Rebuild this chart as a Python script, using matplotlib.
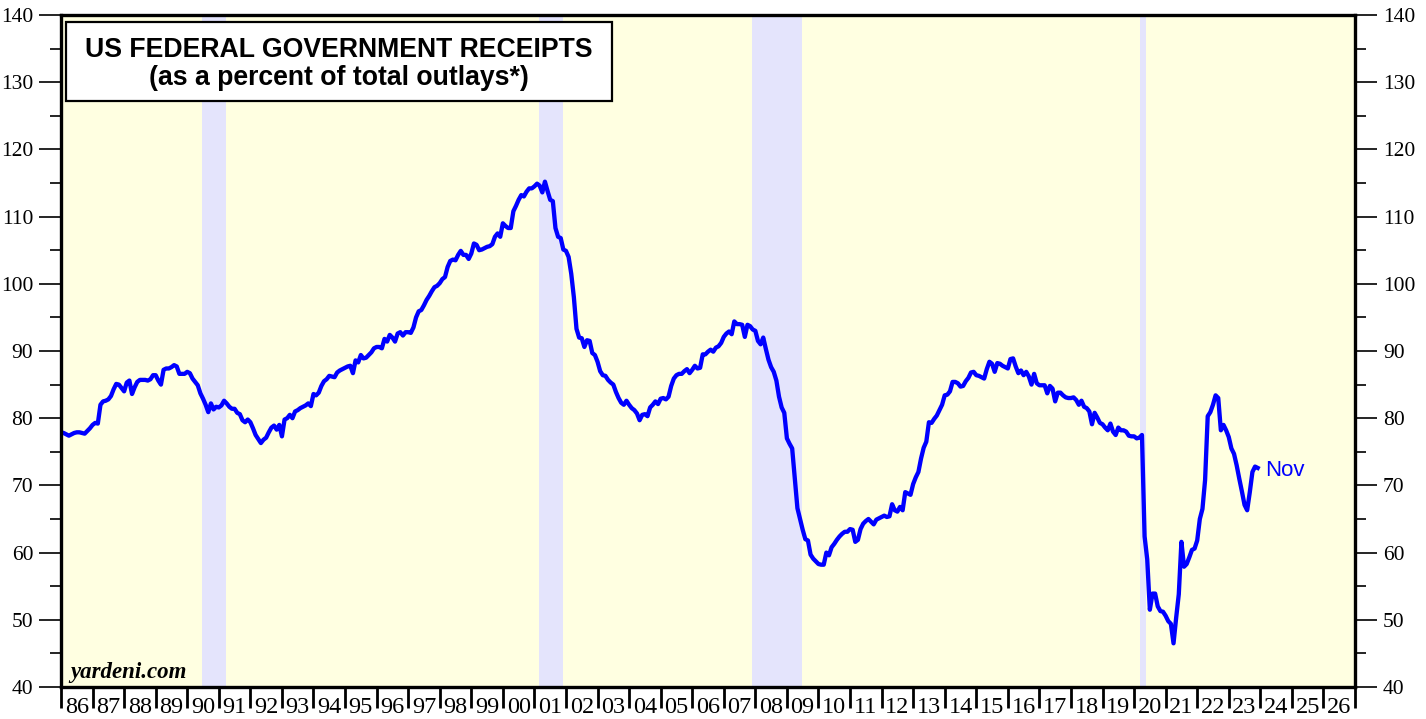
import matplotlib.pyplot as plt
from matplotlib.patches import Rectangle
from matplotlib.ticker import MultipleLocator
import numpy as np

# receipts as % of outlays, monthly (Jan 1986 .. Dec 2023 grid)
receipts_1986_1995 = [
    77.9, 77.8, 77.6, 77.4, 77.6, 77.8, 77.9, 77.9, 77.8, 77.7, 78.1, 78.5,
    79.0, 79.3, 79.2, 82.0, 82.5, 82.6, 82.8, 83.3, 84.3, 85.1, 85.0, 84.5,
    84.0, 85.3, 85.6, 83.6, 84.6, 85.4, 85.7, 85.7, 85.7, 85.6, 85.8, 86.4,
    86.4, 85.6, 85.0, 87.2, 87.4, 87.4, 87.6, 87.9, 87.7, 86.6, 86.6, 86.6,
    86.9, 86.7, 85.9, 85.4, 84.9, 83.7, 82.9, 82.0, 80.9, 82.2, 81.3, 81.7,
    81.6, 81.9, 82.6, 82.2, 81.7, 81.4, 81.4, 80.8, 80.6, 79.7, 79.4, 79.8,
    79.4, 78.5, 77.5, 76.9, 76.3, 76.8, 77.1, 77.9, 78.6, 78.9, 78.3, 79.0,
    77.3, 79.8, 80.0, 80.5, 80.0, 81.0, 81.2, 81.5, 81.7, 81.9, 82.2, 81.8,
    83.6, 83.4, 83.8, 84.8, 85.5, 85.8, 86.3, 86.2, 86.1, 86.8, 87.1, 87.3,
    87.5, 87.7, 87.8, 86.7, 88.6, 88.3, 89.4, 88.9, 89.0, 89.4, 89.8, 90.4,
]
receipts_1996_2005 = [
    90.6, 90.6, 90.4, 91.8, 91.4, 92.4, 92.0, 91.4, 92.6, 92.8, 92.3, 92.8,
    92.8, 92.7, 93.5, 95.0, 95.9, 96.1, 96.8, 97.6, 98.2, 98.9, 99.5, 99.7,
    100.1, 100.7, 101.0, 102.5, 103.4, 103.6, 103.5, 104.3, 104.9, 104.3, 104.3, 103.7,
    104.5, 106.0, 105.8, 105.0, 105.1, 105.3, 105.5, 105.6, 105.9, 107.0, 107.5, 107.0,
    109.0, 108.6, 108.3, 108.3, 110.8, 111.6, 112.5, 113.2, 113.0, 113.7, 114.2, 114.2,
    114.5, 114.9, 114.6, 113.6, 115.2, 113.8, 112.5, 112.3, 108.3, 107.0, 106.8, 105.1,
    104.9, 104.0, 101.5, 98.0, 93.3, 92.0, 91.9, 90.6, 91.6, 91.5, 89.7, 89.4,
    88.4, 87.0, 86.4, 86.3, 85.7, 85.3, 85.0, 83.9, 83.0, 82.3, 82.0, 82.6,
    82.0, 81.5, 81.2, 80.7, 79.7, 80.5, 80.6, 80.3, 81.6, 82.0, 82.5, 82.1,
    82.9, 83.0, 82.8, 83.2, 84.8, 85.9, 86.4, 86.6, 86.6, 87.0, 87.3, 86.7,
]
receipts_2006_2015 = [
    87.2, 87.8, 87.4, 87.5, 89.5, 89.5, 89.9, 90.2, 89.9, 90.5, 90.7, 91.2,
    92.1, 92.6, 92.9, 92.5, 94.4, 94.0, 94.0, 93.9, 92.1, 93.9, 93.7, 93.2,
    93.0, 91.5, 91.0, 92.0, 90.3, 88.7, 87.6, 86.9, 85.6, 83.2, 81.6, 80.8,
    77.0, 76.2, 75.5, 71.0, 66.6, 65.0, 63.4, 62.0, 61.8, 59.7, 59.1, 58.7,
    58.3, 58.2, 58.2, 60.0, 59.6, 60.8, 61.3, 61.9, 62.4, 62.8, 63.1, 63.1,
    63.5, 63.4, 61.6, 61.9, 63.5, 64.3, 64.7, 65.0, 64.6, 64.2, 64.9, 65.1,
    65.3, 65.5, 65.3, 65.4, 67.2, 66.3, 66.1, 66.8, 66.3, 69.0, 68.8, 68.6,
    70.2, 71.2, 72.0, 74.0, 75.6, 76.5, 79.4, 79.3, 79.9, 80.4, 81.2, 82.0,
    83.4, 83.5, 84.0, 85.4, 85.4, 85.2, 84.7, 84.8, 85.5, 86.0, 86.8, 86.9,
    86.4, 86.3, 86.1, 85.9, 87.3, 88.4, 88.1, 86.9, 88.2, 88.1, 87.8, 87.6,
]
receipts_2016_2023 = [
    87.4, 88.8, 88.9, 87.7, 86.7, 87.1, 86.4, 86.9, 86.2, 85.0, 86.6, 85.2,
    84.9, 84.9, 84.9, 83.7, 84.8, 84.4, 82.5, 83.8, 83.8, 83.4, 83.1, 83.0,
    83.0, 83.1, 82.7, 82.0, 82.6, 81.7, 81.5, 81.0, 79.1, 80.8, 80.1, 79.3,
    79.1, 78.6, 78.2, 79.2, 78.0, 77.5, 78.6, 78.2, 78.2, 78.0, 77.4, 77.3,
    77.3, 77.0, 77.1, 77.5, 62.4, 59.0, 51.5, 53.9, 53.9, 52.0, 51.3, 51.2,
    50.6, 49.8, 49.4, 46.5, 50.3, 53.8, 61.6, 57.9, 58.3, 59.3, 60.4, 60.6,
    61.8, 65.0, 66.5, 70.8, 80.3, 80.9, 82.0, 83.4, 83.0, 78.2, 79.0, 78.2,
    77.2, 75.5, 74.7, 73.0, 71.0, 69.1, 67.1, 66.3, 69.0, 72.0, 72.8, 72.6,
]

recession_start = [1990.47, 2001.15, 2007.89, 2020.19]
recession_end = [1991.23, 2001.91, 2009.48, 2020.38]

years = list(range(1986, 2027))
year_labels = [f"{y % 100:02d}" for y in years]

receipts = np.array(receipts_1986_1995 + receipts_1996_2005 + receipts_2006_2015 + receipts_2016_2023)
t = 1986 + np.arange(len(receipts)) / 12.0

serif = 'Liberation Serif'
sans = 'Liberation Sans'

fig = plt.figure(figsize=(14.26, 7.19), dpi=100)
ax = fig.add_axes([61 / 1426, 32 / 719, 1294 / 1426, 672 / 719])
ax.set_facecolor('#FFFFE1')

for s, e in zip(recession_start, recession_end):
    ax.axvspan(s, e, color='#E4E4FC', lw=0, zorder=1)

ax.plot(t, receipts, color='#0000FF', lw=3.1, zorder=3, solid_joinstyle='round')
ax.text(t[-1] + 0.22, receipts[-1] - 0.4, 'Nov', color='#0000FF', fontsize=16,
        family=sans, va='center', ha='left')

ax.set_xlim(1986, 2027)
ax.set_ylim(40, 140)

# y axis, labels on both sides
ax.yaxis.set_major_locator(MultipleLocator(10))
ax.yaxis.set_minor_locator(MultipleLocator(5))
ax.tick_params(axis='y', which='both', direction='out', left=True, right=True,
               labelleft=True, labelright=True, width=1.2, labelsize=15.5, pad=4)
ax.tick_params(axis='y', which='major', length=16)
ax.tick_params(axis='y', which='minor', length=8)

# x axis: ticks on year boundaries, labels centred in each year
ax.set_xticks(np.arange(1986, 2028))
ax.set_xticklabels([])
ax.set_xticks(np.arange(1986.5, 2027), minor=True)
ax.set_xticklabels(year_labels, minor=True)
ax.tick_params(axis='x', which='major', direction='out', length=15, width=2.0)
ax.tick_params(axis='x', which='minor', length=0, pad=7, labelsize=17.5)

for lab in ax.get_xticklabels(minor=True) + ax.yaxis.get_majorticklabels():
    lab.set_family(serif)

for sp in ax.spines.values():
    sp.set_linewidth(2.4)
    sp.set_zorder(5)

# title box
ax.add_patch(Rectangle((0.0039, 0.872), 0.422, 0.1176, transform=ax.transAxes,
                       facecolor='white', edgecolor='black', lw=1.6, zorder=6))
ax.text(0.2148, 0.948, 'US FEDERAL GOVERNMENT RECEIPTS', transform=ax.transAxes,
        ha='center', va='center', fontsize=19.2, fontweight='bold', family=sans, zorder=7)
ax.text(0.2148, 0.906, '(as a percent of total outlays*)', transform=ax.transAxes,
        ha='center', va='center', fontsize=19.2, fontweight='bold', family=sans, zorder=7)

ax.text(0.007, 0.013, 'yardeni.com', transform=ax.transAxes, ha='left', va='baseline',
        fontsize=16.5, fontweight='bold', style='italic', family=serif, zorder=7)

fig.savefig('out.png', dpi=100, facecolor='white')
